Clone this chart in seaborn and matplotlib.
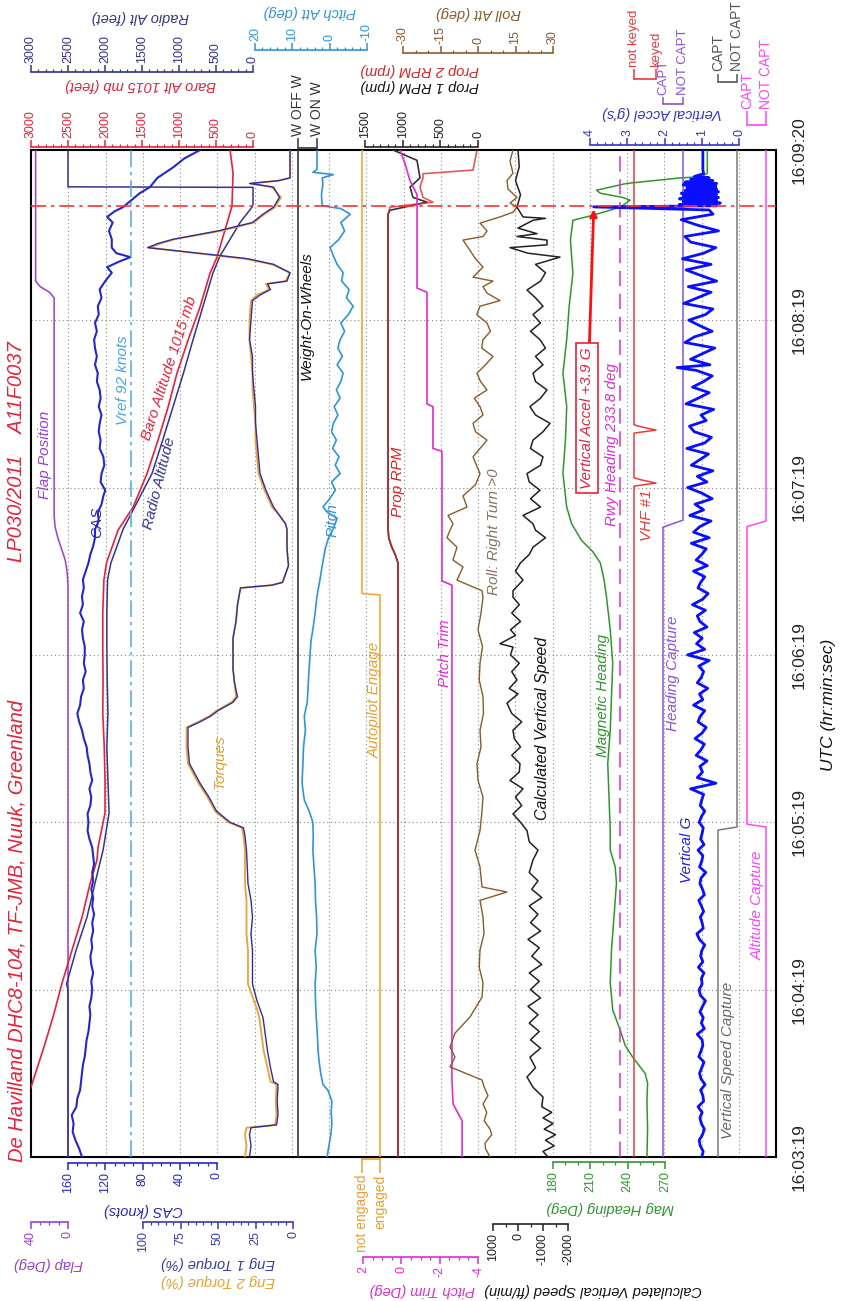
import matplotlib
matplotlib.use("Agg")
import matplotlib.pyplot as plt
import seaborn as sns

# ---------------- data (t = seconds after 16:03:19 UTC) ----------------
time_ticks = [0, 60, 120, 180, 240, 300, 361]
time_labels = ["16:03:19", "16:04:19", "16:05:19", "16:06:19", "16:07:19", "16:08:19", "16:09:20"]
t_impact = 341
vref_kts = 92
rwy_heading = 233.8

cas_pts = [(0, 145), (3, 148), (6, 152), (9, 155), (12, 154), (15, 156), (18, 151), (21, 150), (24, 147),
           (27, 146), (30, 145), (33, 144), (36, 142), (39, 141), (42, 140), (45, 138), (48, 137), (51, 136),
           (54, 137), (57, 135), (60, 134), (63, 135), (66, 133), (69, 135), (72, 136), (75, 134), (78, 135),
           (81, 133), (84, 134), (87, 132), (90, 134), (93, 133), (96, 135), (99, 133), (102, 134), (105, 132),
           (108, 133), (111, 134), (114, 137), (117, 139), (120, 138), (123, 139), (126, 136), (129, 135),
           (132, 137), (135, 134), (138, 136), (141, 137), (144, 139), (147, 140), (150, 143), (153, 145),
           (156, 148), (159, 150), (162, 147), (165, 146), (168, 143), (171, 144), (174, 141), (177, 143),
           (180, 142), (183, 142), (186, 144), (189, 145), (192, 143), (195, 147), (198, 144), (201, 145),
           (204, 143), (207, 144), (210, 141), (213, 138), (216, 136), (219, 133), (222, 131), (225, 131),
           (228, 127), (231, 128), (234, 124), (237, 122), (239, 120), (242, 125), (245, 124), (248, 121),
           (251, 122), (254, 126), (257, 125), (260, 127), (263, 126), (266, 124), (269, 127), (272, 125),
           (275, 126), (278, 129), (281, 128), (284, 131), (287, 129), (290, 131), (293, 132), (296, 129),
           (299, 131), (302, 127), (305, 128), (308, 124), (311, 126), (314, 120), (317, 113), (319, 118),
           (321, 105), (322.6, 93), (324, 108), (326, 113), (329, 113), (332, 116), (335, 112), (337, 118),
           (339, 110), (340.5, 101), (343, 92), (345.5, 83), (347.7, 72), (351, 64), (354.8, 47), (358, 35),
           (361, 18)]

flap_pts = [(0, 0), (205, 0), (210, 1), (214, 3), (218, 7), (222, 11), (226, 14), (230, 15), (308, 15),
            (310, 20), (312, 30), (314, 35), (361, 35)]

baro_pts = [(0, 3290), (24, 3013), (38.4, 2837), (50.2, 2702), (62.4, 2580), (74.2, 2445), (86, 2310),
            (98.2, 2200), (106.5, 2108), (111, 2094), (123.3, 2000), (135, 2000), (147, 2010), (159, 2030),
            (171, 2026), (183, 2030), (195, 2030), (206.8, 2015), (213, 1980), (218.6, 1905), (224.7, 1824),
            (233, 1620), (245, 1432), (257, 1283), (268.8, 1148), (281, 1027), (292.8, 878), (304.7, 716),
            (316.8, 581), (322.6, 486), (328.7, 419), (334.8, 351), (340.9, 284), (352.7, 270), (361, 310)]

radio_pts = [(0, 2500), (60, 2500), (62, 2520), (74.2, 2390), (86, 2243), (98.2, 2135), (110, 2026),
             (123.3, 1945), (135, 1960), (147, 1975), (159, 1960), (171, 1970), (183, 1975), (195, 1975),
             (207, 1965), (213, 1920), (219, 1837), (225, 1756), (233, 1600), (245, 1365), (257, 1220),
             (269, 1080), (281, 940), (293, 810), (305, 675), (317, 540), (323, 446), (329, 310), (335, 175),
             (340.5, 14), (341.5, 0), (347.6, 0), (347.8, 2500), (361, 2500)]

eng1_tq_pts = [(0, 29), (4, 28), (8, 29), (10.5, 28), (11.5, 11), (15, 10), (20, 10.5), (26, 10), (27, 13),
               (32, 15), (38, 17), (44, 18.5), (50, 20), (53, 22), (56, 24), (62, 27), (68, 27), (74, 27),
               (80, 28), (86, 27), (92, 28), (98, 30), (104, 30.5), (110, 31), (115, 32), (118, 33), (120, 42),
               (124, 51), (129, 56), (134, 62), (138, 66), (141, 69), (147, 70), (154, 70), (156, 62),
               (158, 55), (160, 50), (163, 40), (165, 37), (170, 39), (175, 40), (179, 40), (186, 40),
               (192, 38), (198, 37), (204, 35), (205, 14), (206, 7), (209, 5), (212, 3), (218, 4), (225, 4),
               (227, 5), (230, 9), (233, 13), (239, 18), (245, 22), (251, 23), (257, 24), (263, 25), (269, 25),
               (275, 26), (281, 27), (287, 27), (293, 29), (300, 28), (307, 27), (309, 22), (311, 15),
               (313, 17), (314, 4), (317, 2), (320, 13), (322, 30), (323.3, 51), (326, 97), (327.5, 90),
               (329, 80), (332, 50), (335, 27), (338, 20), (340.5, 13), (344, 9), (347.7, 13), (349, 29),
               (350, 10), (351, 2), (361, 2)]

eng2_tq_pts = [(0, 32), (4, 31), (8, 32), (10.5, 31), (11.5, 12), (15, 11), (20, 11.5), (26, 11), (27, 15),
               (32, 17), (38, 19.5), (44, 21), (50, 22.5), (53, 24), (56, 26), (62, 30), (68, 30), (74, 30),
               (80, 31), (86, 31), (92, 31), (98, 32), (104, 32), (110, 32), (115, 33), (118, 34), (120, 43),
               (124, 52), (129, 57), (134, 63), (138, 67), (141, 70), (147, 71), (154, 71), (156, 63),
               (158, 56), (160, 51), (163, 41), (165, 38), (170, 39), (175, 40), (179, 40), (186, 40),
               (192, 38), (198, 37), (204, 35), (205, 14), (206, 7), (209, 5), (212, 3), (218, 4), (225, 4),
               (227, 5), (230, 9), (233, 14), (239, 19), (245, 23), (251, 24), (257, 25), (263, 25), (269, 26),
               (275, 27), (281, 27), (287, 28), (293, 29), (300, 29), (307, 28), (309, 24), (311, 16),
               (313, 18), (314, 5), (317, 2), (320, 14), (322, 32), (323.3, 53), (326, 96), (327.5, 88),
               (329, 79), (332, 48), (335, 26), (338, 19), (340.5, 12), (344, 8), (347.7, 14), (349, 28),
               (350, 9), (351, 2), (361, 2)]

wow_pts = [(0, 0), (361, 0)]

pitch_pts = [(0, 0.7), (4, 0.2), (8, -0.3), (12, -0.6), (16, -0.4), (20, -0.6), (24, 0.5), (26, 1.8),
             (30, 2.4), (34, 2.8), (38, 3.1), (44, 3.3), (50, 3.6), (56, 3.8), (62, 3.9), (68, 3.6), (74, 3.9),
             (80, 3.4), (86, 3.5), (92, 3.8), (98, 3.9), (104, 4.2), (110, 4.5), (115, 4.4), (120, 4.5),
             (124, 5.5), (128, 6.8), (134, 7.4), (140, 7.2), (147, 7.0), (153, 6.5), (158, 6.8), (163, 6.0),
             (168, 5.8), (173, 5.6), (179, 5.3), (185, 5.0), (190, 4.4), (195, 3.9), (201, 3.4), (207, 2.6),
             (212, 2.0), (218, 1.2), (222, 0.3), (225, -0.9), (229, -2.0), (231, 0.5), (233, 1.8), (236, 0.0),
             (239, -1.5), (242, -0.5), (245, -2.8), (248, -1.5), (251, -2.5), (254, -0.8), (257, -1.8),
             (260, -0.5), (263, -1.0), (266, -2.2), (269, -1.2), (272, -2.8), (275, -1.8), (278, -3.0),
             (281, -3.6), (284, -2.0), (287, -3.4), (290, -2.2), (293, -2.8), (296, -4.0), (299, -3.0),
             (302, -5.0), (305, -6.3), (308, -4.5), (311, -5.2), (314, -3.2), (317, -3.6), (320, -2.0),
             (323, -1.0), (326, -0.1), (329, -2.5), (332, -4.0), (335, -3.0), (338, -5.5), (340, -3.0),
             (341, 2.0), (345, 2.2), (349, 1.8), (351, 2.0), (352.2, -1.0), (353, 4.5), (354, 3.4), (361, 3.4)]

autopilot_pts = [(0, 1), (201.5, 1), (202, 0), (361, 0)]

prop1_pts = [(0, 1062), (213, 1062), (216, 1100), (219, 1150), (222, 1185), (225, 1194), (338, 1194),
             (339.4, 1168), (342.3, 677), (344, 863), (347.7, 902), (351, 770), (357.3, 810), (361, 1128)]
prop2_pts = [(0, 1062), (213, 1062), (216, 1100), (219, 1150), (222, 1185), (225, 1194), (338, 1194),
             (340.5, 1168), (342.3, 597), (344, 730), (347.7, 770), (351, 730), (352.5, 730), (353.8, 66),
             (361, 13)]

trim_pts = [(0, -3.17), (13, -3.17), (19, -2.7), (28, -2.64), (205, -2.64), (206.5, -2.12), (253, -2.12),
            (254, -1.65), (269, -1.65), (270, -1.34), (310, -1.34), (311.5, -0.82), (345, -0.82),
            (350, -0.45), (356, -0.2), (361, 0.07)]

roll_pts = [(0, 4.8), (3, 3), (5, 2.8), (8, 5.5), (10, 4.8), (13, 2.5), (16, 3.5), (19, 2), (22, 4),
            (25, 2.5), (27.6, 1.6), (32.3, -11.2), (35.8, -9.2), (39.4, -11.2), (44.4, -9.2), (50.2, -3.2),
            (57.3, 1.6), (62.4, 2), (68, 0.5), (74.2, 0.8), (80, 2.4), (86, 2), (92, 0.8), (95, 11.6),
            (96.8, 1.6), (104, 0.8), (110, -1.2), (117, 0.8), (123, 1.5), (129, 2), (135, 0), (141, -0.4),
            (147, 1.2), (153, 0.8), (159, 2.2), (165, 2), (171, 0.5), (177, 0.8), (183, 1.8), (189, 0),
            (195, 1.2), (200.7, 2), (203, 1.6), (206.8, -8.4), (211.5, -6), (214, -10), (218.6, -8.4),
            (222, -12.4), (224.7, -11.2), (227, -10), (230, -12), (233, -4.4), (237, -6), (241, -1),
            (245, 0.8), (251, -2), (257, 3.6), (260, -1), (263, -2), (266, 2), (269, 0.8), (272, -1.5),
            (275, 3.6), (278, 1), (281, -0.4), (284, 3), (287, 6), (290, 1.5), (293, 2), (296, 5),
            (299, 3.6), (302, -0.5), (305, 0.8), (307, 8.8), (309.7, 3.6), (312, 2), (314, 6),
            (315.4, -2), (319, 2), (322, -1), (325, -3.2), (328.7, -6), (330, 2), (332, 3.6), (334.8, 0.8),
            (337, 8.8), (338.7, 14), (340.5, 15.6), (342, 12.8), (344, 15.6), (347, 12), (350, 11.6),
            (352.7, 14), (357, 12.8), (361, 14)]

vs_pts = [(0, -1200), (2, -1000), (4, -1450), (6, -1100), (8, -1500), (10, -1050), (12, -1400), (14, -1000),
          (16, -1350), (18, -950), (21.5, -1000), (25, -600), (28.7, -360), (32, -700), (35.8, -480),
          (39, -900), (42, -500), (45, -850), (48, -450), (51, -800), (54, -400), (57, -900), (60, -500),
          (63, -850), (66, -450), (69, -950), (72, -550), (75, -850), (78, -400), (81, -900), (84, -500),
          (87, -800), (90, -450), (93, -950), (96, -550), (99, -800), (102, -450), (106.5, -600),
          (110, -800), (113, -450), (117, -360), (120, -100), (123, 200), (126, -150), (129, 100),
          (132, -200), (135, 320), (138, -50), (141, -80), (144, 250), (147, -100), (150, 150), (153, 200),
          (156, -150), (159, 250), (162.7, 440), (166, 0), (168, 350), (171, 40), (174, 250), (177, -50),
          (180, 300), (182.8, 200), (184, 720), (187, 100), (189, 300), (192, -100), (195, 250), (198, -50),
          (200.7, 200), (203, 200), (206.8, -200), (210, 100), (213, -100), (216, -450), (218.6, -600),
          (222, -1100), (224.7, -700), (227, -600), (230, -200), (233, -900), (236, -500), (239, -880),
          (242, -450), (245, -360), (248, -900), (251, -1000), (254, -500), (257, -600), (260, -1000),
          (263, -1280), (266, -700), (269, -480), (272, -900), (275, -1160), (278, -700), (281, -600),
          (284, -1000), (287, -700), (290, -1100), (293, -880), (296, -500), (299, -900), (302, -600),
          (305, -1000), (308, -700), (310.8, -360), (314, -900), (317, -1100), (320, -700), (322.6, -1680),
          (324, -400), (326, 320), (327, -1160), (328.7, -1160), (330, 40), (331, -760), (333, 0),
          (335.8, -600), (336.5, -1100), (337, -200), (340.5, 40), (345, -100), (350, 100), (355, -50),
          (361, 0)]

hdg_pts = [(0, 255.5), (10, 256), (20, 255.5), (26.5, 256), (30, 254), (35.8, 244), (40, 238), (45.5, 234),
           (52.7, 228), (62.4, 226), (74.2, 227), (86, 229), (98.2, 231), (104, 230), (110, 226), (117, 226),
           (129, 225), (141, 224), (153, 226), (165, 227), (177, 228), (189, 226), (200.7, 223), (207, 221),
           (213, 218), (217, 212), (221, 203), (227, 195), (233, 191), (245, 188), (257, 190), (269, 191),
           (281, 188), (293, 191), (305, 193), (316.8, 196), (328.7, 194), (335.8, 196), (337.6, 212),
           (340.5, 234), (343, 242), (344, 236), (345.5, 218), (346.6, 215), (349, 239), (350.9, 280),
           (351.5, 300), (352.7, 304), (361, 304)]

vhf_pts = [(0, 0), (240.5, 0), (241.6, 1), (242.8, 0.3), (243.5, 0), (259.5, 0), (260.6, 1), (261.8, 0.3),
           (262.5, 0), (361, 0)]
hdg_capt_pts = [(0, 0), (225.8, 0), (228.3, 1), (361, 1)]
vs_capt_pts = [(0, 0), (117.2, 0), (118.3, 1), (361, 1)]
alt_capt_pts = [(0, 1), (118.3, 1), (119.3, 0), (226, 0), (228, 1), (361, 1)]

vert_g_pts = [(0, 1.00), (2, 0.96), (4, 1.04), (6, 1.07), (8, 0.98), (10, 0.93), (12, 1.01), (14, 1.05),
              (16, 0.99), (18, 1.10), (20, 0.95), (22, 0.97), (24, 1.03), (26, 0.91), (28, 1.02), (30, 1.06),
              (32, 1.00), (34, 0.94), (36, 1.08), (38, 1.02), (40, 0.97), (42, 0.99), (44, 1.12), (46, 0.93),
              (48, 1.01), (50, 0.96), (52, 1.05), (54, 0.98), (56, 0.90), (58, 1.04), (60, 1.07), (62, 0.99),
              (64, 1.01), (66, 0.94), (68, 1.09), (70, 0.97), (72, 1.03), (74, 1.00), (76, 0.92), (78, 1.06),
              (80, 1.13), (82, 0.96), (84, 0.99), (86, 1.04), (88, 0.95), (90, 1.01), (92, 1.08), (94, 0.93),
              (96, 0.98), (98, 1.05), (100, 1.02), (102, 0.89), (104, 1.06), (106, 1.00), (108, 0.97),
              (110, 1.10), (112, 0.94), (114, 1.03), (116, 0.99), (118, 0.96), (120, 1.07), (122, 1.01),
              (124, 0.92), (126, 1.04), (128, 1.00), (130, 0.95), (132, 1.30), (134, 0.62), (136, 1.12),
              (138, 0.98), (140, 1.05), (142, 0.86), (144, 1.15), (146, 1.02), (148, 0.93), (150, 1.18),
              (152, 0.99), (154, 0.88), (156, 1.10), (158, 1.04), (160, 0.92), (162, 1.22), (164, 0.97),
              (166, 1.06), (168, 0.84), (170, 1.12), (172, 1.01), (174, 0.95), (176, 1.08), (178, 0.80),
              (180, 1.38), (182, 0.92), (184, 1.14), (186, 0.99), (188, 1.20), (190, 0.86), (192, 1.05),
              (194, 1.12), (196, 0.90), (198, 1.25), (200, 0.97), (202, 0.83), (204, 1.10), (206, 1.03),
              (208, 0.92), (210, 1.22), (212, 0.85), (214, 1.15), (216, 1.00), (218, 0.88), (220, 1.28),
              (222, 0.80), (224, 1.22), (226, 1.05), (228, 0.75), (230, 1.32), (232, 0.95), (234, 1.18),
              (236, 0.72), (238, 1.00), (240, 1.38), (242, 0.86), (244, 1.12), (246, 0.70), (248, 1.28),
              (250, 1.05), (252, 0.82), (254, 1.40), (256, 0.92), (258, 0.74), (260, 1.20), (262, 1.33),
              (264, 0.88), (266, 1.02), (268, 0.68), (270, 1.42), (272, 1.10), (274, 0.80), (276, 1.25),
              (278, 0.95), (280, 0.72), (282, 1.15), (283, 1.66), (284, 0.78), (286, 1.30), (288, 0.98),
              (290, 0.65), (292, 1.45), (294, 1.20), (296, 0.72), (298, 1.05), (300, 1.35), (302, 0.90),
              (304, 0.70), (306, 1.48), (308, 1.12), (310, 0.75), (312, 1.36), (314, 0.60), (316, 1.02),
              (318, 1.42), (320, 0.75), (322, 1.52), (324, 0.95), (326, 0.62), (328, 1.30), (330, 1.45),
              (332, 0.55), (334, 1.10), (336, 1.55), (338, 0.70), (339.5, 0.8), (340.6, 3.9), (341, 0.6),
              (341.5, 1.6), (342, 0.5), (342.5, 1.5), (343, 0.6), (343.5, 1.6), (344, 0.55), (344.5, 1.5),
              (345, 0.6), (345.5, 1.55), (346, 0.55), (346.5, 1.45), (347, 0.6), (347.5, 1.4), (348, 0.62),
              (348.5, 1.5), (349, 0.6), (349.5, 1.45), (350, 0.7), (350.5, 1.3), (351, 0.8), (351.5, 1.2),
              (352.5, 0.95), (354, 0.97), (361, 0.97)]

# ---------------- colours ----------------
RED = "#e8213a"
NAVY = "#34348c"
CAS_C = "#2626cc"
FLAP_C = "#9a3fd0"
ENG1_C = "#2e2e9e"
ENG2_C = "#f0a030"
PITCH_C = "#2e95dc"
ROLL_C = "#8b5a2b"
TRIM_C = "#e22ad6"
HDG_C = "#2f962f"
VG_C = "#0a10ff"
HCAP_C = "#8a50e0"
VSCAP_C = "#7a7a7a"
ACAP_C = "#ff44ff"
VHF_C = "#e83a3a"

# ---------------- layout (pixels of the 841x1301 picture) ----------------
W, H = 841, 1301
X0, X1, Y0, Y1 = 31, 776, 150, 1157
T_END = 361

sns.set_theme(style="white")
plt.rcParams["font.family"] = ["Liberation Sans", "DejaVu Sans"]
plt.rcParams["axes.unicode_minus"] = False

fig = plt.figure(figsize=(W / 100, H / 100), dpi=100)
ax = fig.add_axes([X0 / W, 1 - Y1 / H, (X1 - X0) / W, (Y1 - Y0) / H])
ax.set_xlim(X0, X1)
ax.set_ylim(0, T_END)
ax.set_facecolor("white")
for sp in ax.spines.values():
    sp.set_color("black")
    sp.set_linewidth(1.5)
ax.set_xticks([X0 + 37.25 * k for k in range(1, 20)])
ax.tick_params(axis="x", length=0, labelbottom=False)
ax.grid(axis="x", color="#8a8a8a", linestyle=(0, (1, 2.5)), linewidth=0.8)
for t in time_ticks[1:-1]:
    ax.axhline(t, color="#8a8a8a", linestyle=(0, (1, 2.5)), linewidth=0.8, zorder=0)
ax.yaxis.tick_right()
ax.set_yticks(time_ticks, time_labels)
ax.tick_params(axis="y", length=0, pad=11, labelsize=12.5, labelrotation=90)
for lbl in ax.get_yticklabels():
    lbl.set_verticalalignment("center")

# value-to-pixel mappings: (value_a, px_a, value_b, px_b)
RADIO_M = (3000, 31, 0, 253)
CAS_M = (160, 68, 0, 217)
FLAP_M = (40, 31, 0, 68)
TQ_M = (100, 143, 0, 293)
WOW_M = (0, 298, 1, 317)
PITCH_M = (20, 255, -10, 367)
AP_M = (0, 362, 1, 380)
RPM_M = (1500, 365, 0, 478)
TRIM_M = (2, 363, -4, 478)
ROLL_M = (-30, 403, 30, 553)
VS_M = (1000, 493, -2000, 568)
HDG_M = (180, 553, 270, 665)
VHF_M = (0, 634, 1, 656)
VG_M = (4, 590, 0, 739)
HCAP_M = (0, 663, 1, 683)
VSCAP_M = (0, 718, 1, 737)
ACAP_M = (0, 747, 1, 766)


def twin(m):
    va, pa, vb, pb = m
    k = (vb - va) / (pb - pa)
    a = ax.twiny()
    a.set_xlim(va + (X0 - pa) * k, va + (X1 - pa) * k)
    a.axis("off")
    return a


def trace(m, pts, color, lw=1.0, a=None, **kw):
    if a is None:
        a = twin(m)
    t, v = zip(*pts)
    sns.lineplot(x=list(v), y=list(t), sort=False, estimator=None, ax=a, color=color, linewidth=lw, **kw)
    return a


def scale(m, py, major, minor=None, labels=None, color="black", top=True, size=9, length=(5, 2.5),
          pad=1.5):
    va, pa, vb, pb = m
    s = fig.add_axes([pa / W, 1 - py / H, (pb - pa) / W, 0.0001])
    s.set_xlim(va, vb)
    s.patch.set_visible(False)
    side = "top" if top else "bottom"
    for name, sp in s.spines.items():
        sp.set_visible(name == side)
        sp.set_color(color)
        sp.set_linewidth(1.2)
    s.yaxis.set_visible(False)
    s.xaxis.set_ticks_position(side)
    s.set_xticks(major)
    if labels is not None:
        s.set_xticklabels(labels)
    if minor is not None:
        s.set_xticks(minor, minor=True)
    s.tick_params(axis="x", which="major", direction="out", length=length[0], width=1.1, color=color,
                  labelcolor=color, labelsize=size, labelrotation=90, pad=pad)
    s.tick_params(axis="x", which="minor", direction="out", length=length[1], width=0.9, color=color)
    return s


def label(px, py, s, color, size=11, rot=90, **kw):
    fig.text(px / W, 1 - py / H, s, color=color, fontsize=size, rotation=rot, fontstyle="italic",
             ha=kw.pop("ha", "center"), va=kw.pop("va", "center"), rotation_mode="anchor", **kw)


# ---------------- traces ----------------
trace(FLAP_M, flap_pts, FLAP_C, 1.1)
trace(RADIO_M, radio_pts, NAVY, 1.1)
trace(RADIO_M, baro_pts, RED, 1.2)
a_cas = trace(CAS_M, cas_pts, CAS_C, 1.5)
a_cas.axvline(vref_kts, color="#5aaee6", linestyle=(0, (10, 3, 2, 3)), linewidth=1.2)
a_tq = trace(TQ_M, eng2_tq_pts, ENG2_C, 1.3)
trace(TQ_M, eng1_tq_pts, ENG1_C, 1.0, a=a_tq)
trace(WOW_M, wow_pts, "#444444", 1.3)
trace(PITCH_M, pitch_pts, PITCH_C, 1.2)
trace(AP_M, autopilot_pts, "#f0a840", 1.2)
a_rpm = trace(RPM_M, prop1_pts, "#333333", 1.2)
trace(RPM_M, prop2_pts, "#e02020", 1.2, a=a_rpm, alpha=0.75)
trace(TRIM_M, trim_pts, TRIM_C, 1.2)
trace(ROLL_M, roll_pts, ROLL_C, 1.0)
trace(VS_M, vs_pts, "#222222", 1.1)
a_hdg = trace(HDG_M, hdg_pts, HDG_C, 1.1)
a_hdg.axvline(rwy_heading, color=TRIM_C, linestyle=(0, (10, 5)), linewidth=1.1)
trace(VHF_M, vhf_pts, VHF_C, 1.1)
trace(HCAP_M, hdg_capt_pts, HCAP_C, 1.1)
trace(VSCAP_M, vs_capt_pts, VSCAP_C, 1.1)
trace(ACAP_M, alt_capt_pts, ACAP_C, 1.1)
a_vg = trace(VG_M, vert_g_pts, VG_C, 2.0)
a_vg.axhline(t_impact, color="#ff3030", linestyle=(0, (9, 3, 2, 3)), linewidth=1.2)
a_vg.annotate("Vertical Accel +3.9 G", xy=(3.9, 339.8), xytext=(587, H - 418), textcoords="figure pixels",
              rotation=90, ha="center", va="center", color=RED, fontsize=11, fontstyle="italic",
              bbox=dict(boxstyle="square,pad=0.25", fc="white", ec=RED, lw=1.2),
              arrowprops=dict(arrowstyle="-|>", color="#ff1010", lw=2, mutation_scale=10,
                              shrinkA=0, shrinkB=0))

# ---------------- scales above the plot ----------------
scale(RADIO_M, 72, list(range(3000, -1, -500)), list(range(0, 3001, 100)), color=NAVY)
scale(RADIO_M, 147, list(range(3000, -1, -500)), list(range(0, 3001, 100)), color=RED)
scale(PITCH_M, 50, [20, 10, 0, -10], list(range(-10, 21, 2)), color=PITCH_C)
scale(RPM_M, 147, [1500, 1000, 500, 0], list(range(0, 1501, 100)), color="#222222")
scale(ROLL_M, 53, [-30, -15, 0, 15, 30], list(range(-30, 31, 5)), color=ROLL_C)
scale(VG_M, 145, [4, 3, 2, 1, 0], [k / 5 for k in range(21)], color="#3333cc")
scale(WOW_M, 148, [0, 1], labels=["W OFF W", "W ON W"], color="#333333", size=10, length=(7, 0))
scale(VHF_M, 79, [0, 1], labels=["not keyed", "keyed"], color=VHF_C, size=9.5, length=(7, 0))
scale(HCAP_M, 104, [0, 1], labels=["CAPT", "NOT CAPT"], color=HCAP_C, size=9.5, length=(5, 0))
scale(VSCAP_M, 82, [0, 1], labels=["CAPT", "NOT CAPT"], color="#555555", size=10, length=(6, 0))
scale(ACAP_M, 125, [0, 1], labels=["CAPT", "NOT CAPT"], color=ACAP_C, size=10, length=(10, 0))

# ---------------- scales below the plot ----------------
scale(CAS_M, 1163, [160, 120, 80, 40, 0], list(range(0, 161, 10)), color=CAS_C, top=False)
scale(FLAP_M, 1222, [40, 0], list(range(0, 41, 10)), color=FLAP_C, top=False)
scale(TQ_M, 1222, [100, 75, 50, 25, 0], list(range(0, 101, 5)), color="#3a3aa8", top=False)
scale(AP_M, 1159, [0, 1], labels=["not engaged", "engaged"], color="#e8a030", top=False, size=10,
      length=(10, 0))
scale(TRIM_M, 1257, [2, 0, -2, -4], [k / 2 for k in range(-8, 5)], color=TRIM_C, top=False)
scale(VS_M, 1224, [1000, 0, -1000, -2000], list(range(-2000, 1001, 500)), color="#222222", top=False)
scale(HDG_M, 1162, [180, 210, 240, 270], list(range(180, 271, 10)), color=HDG_C, top=False)

# ---------------- axis titles (upside down, as in the rotated original) ----------------
label(140, 17, "Radio Alt (feet)", NAVY, 10.5, 180)
label(140, 85, "Baro Alt 1015 mb (feet)", RED, 10.5, 180)
label(310, 12, "Pitch Att (deg)", PITCH_C, 10.5, 180)
label(478, 13, "Roll Att (deg)", ROLL_C, 10.5, 180)
label(420, 70, "Prop 2 RPM (rpm)", "#e02020", 10.5, 180)
label(420, 86, "Prop 1 RPM (rpm)", "#111111", 10.5, 180)
label(662, 113, "Vertical Accel (g's)", "#3333cc", 10.5, 180)
label(143, 1210, "CAS (knots)", CAS_C, 10.5, 180)
label(48, 1264, "Flap (Deg)", FLAP_C, 10.5, 180)
label(218, 1263, "Eng 1 Torque (%)", "#3a3aa8", 10.5, 180)
label(218, 1281, "Eng 2 Torque (%)", "#e8a030", 10.5, 180)
label(422, 1290, "Pitch Trim (Deg)", TRIM_C, 10.5, 180)
label(593, 1290, "Calculated Vertical Speed (ft/min)", "#111111", 10.5, 180)
label(610, 1208, "Mag Heading (Deg)", HDG_C, 10.5, 180)
label(828, 705, "UTC (hr:min:sec)", "#111111", 12.5, 90)

# ---------------- titles and in-plot labels ----------------
label(17, 1162, "De Havilland DHC8-104, TF-JMB, Nuuk, Greenland", RED, 14.5, 90, ha="left")
label(17, 562, "LP030/2011    A11F0037", RED, 14.5, 90, ha="left")
label(45, 455, "Flap Position", FLAP_C)
label(97, 522, "CAS", CAS_C)
label(123, 380, "Vref 92 knots", "#4aa3df")
label(169, 368, "Baro Altitude 1015 mb", RED, 11, 72)
label(160, 483, "Radio Altitude", NAVY, 11, 76)
label(220, 762, "Torques", "#e8a030")
label(307, 316, "Weight-On-Wheels", "#111111")
label(333, 520, "Pitch", PITCH_C)
label(375, 700, "Autopilot Engage", "#e8a030")
label(398, 482, "Prop RPM", "#e02020")
label(445, 653, "Pitch Trim", TRIM_C)
label(494, 532, "Roll: Right Turn >0", "#8b7060")
label(543, 728, "Calculated Vertical Speed", "#111111", 11.5)
label(603, 695, "Magnetic Heading", HDG_C)
label(612, 445, "Rwy Heading 233.8 deg", TRIM_C)
label(647, 515, "VHF #1", VHF_C)
label(673, 673, "Heading Capture", HCAP_C)
label(687, 850, "Vertical G", "#2020e0")
label(728, 1060, "Vertical Speed Capture", "#666666")
label(758, 905, "Altitude Capture", ACAP_C)

fig.savefig("out.png", dpi=100, facecolor="white")
